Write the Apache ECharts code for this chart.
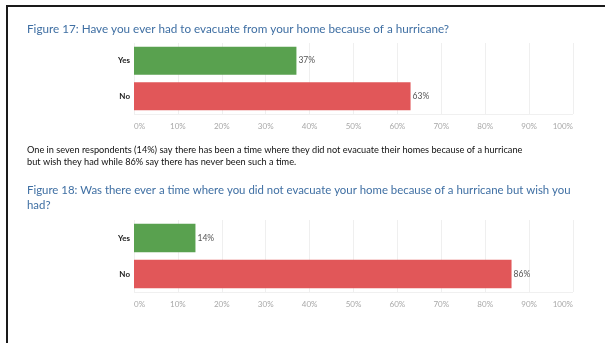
<!DOCTYPE html>
<html>
<head>
<meta charset="utf-8">
<script src="https://cdn.jsdelivr.net/npm/echarts@6/dist/echarts.min.js"></script>
<style>
  html, body { margin: 0; padding: 0; background: #fff; }
  #chart { width: 605px; height: 343px; }
</style>
</head>
<body>
<div id="chart"></div>
<script>
// Survey answers shared by both figures
const categories = ['Yes', 'No'];
const categoryColors = ['#59a14f', '#e15759'];

// Figure 17: ever evacuated because of a hurricane (percent)
const fig17Values = [37, 63];
// Figure 18: did not evacuate but wish you had (percent)
const fig18Values = [14, 86];

// Percent axis ticks
const axisMin = 0;
const axisMax = 100;
const axisStep = 10;

const fig17Title = 'Figure 17: Have you ever had to evacuate from your home because of a hurricane?';
const summaryText = 'One in seven respondents (14%) say there has been a time where they did not evacuate their homes because of a hurricane\nbut wish they had while 86% say there has never been such a time.';
const fig18Title = 'Figure 18: Was there ever a time where you did not evacuate your home because of a hurricane but wish you\nhad?';

const FONT = 'Lato, "Open Sans", sans-serif';

function makeXAxis(gridIndex) {
  return {
    type: 'value',
    gridIndex: gridIndex,
    min: axisMin,
    max: axisMax,
    interval: axisStep,
    axisLine: { show: false },
    axisTick: { show: false },
    splitLine: { show: true, lineStyle: { color: '#efefef', width: 1 } },
    axisLabel: {
      formatter: '{value}%',
      color: '#a8a8a8',
      fontSize: 8,
      fontFamily: FONT,
      margin: 8,
      alignMinLabel: 'left',
      alignMaxLabel: 'right'
    }
  };
}

function makeYAxis(gridIndex) {
  return {
    type: 'category',
    gridIndex: gridIndex,
    data: categories,
    inverse: true,
    axisLine: { show: false },
    axisTick: { show: false },
    splitLine: { show: false },
    axisLabel: {
      color: '#222',
      fontSize: 8,
      fontWeight: 'bold',
      fontFamily: FONT,
      margin: 4
    }
  };
}

function makeSeries(values, axisIndex) {
  return {
    type: 'bar',
    xAxisIndex: axisIndex,
    yAxisIndex: axisIndex,
    barCategoryGap: '21%',
    data: values.map((v, i) => ({ value: v, itemStyle: { color: categoryColors[i] } })),
    label: {
      show: true,
      position: 'right',
      distance: 2,
      formatter: '{c}%',
      color: '#555',
      fontSize: 8.5,
      fontFamily: FONT
    },
    silent: true
  };
}

const chart = echarts.init(document.getElementById('chart'), null, { renderer: 'canvas' });

chart.setOption({
  animation: false,
  backgroundColor: '#fff',
  title: [
    {
      text: fig17Title,
      left: 27,
      top: 22,
      padding: 0,
      textStyle: { color: '#3f6fa3', fontSize: 11.7, fontWeight: 'normal', fontFamily: FONT, lineHeight: 15 }
    },
    {
      text: summaryText,
      left: 27,
      top: 144.5,
      padding: 0,
      textStyle: { color: '#111', fontSize: 9.2, fontWeight: 'normal', fontFamily: FONT, lineHeight: 12 }
    },
    {
      text: fig18Title,
      left: 27,
      top: 182.5,
      padding: 0,
      textStyle: { color: '#3f6fa3', fontSize: 11.4, fontWeight: 'normal', fontFamily: FONT, lineHeight: 15 }
    }
  ],
  grid: [
    { left: 134, right: 32, top: 43, height: 71 },
    { left: 134, right: 32, top: 220, height: 72 }
  ],
  xAxis: [makeXAxis(0), makeXAxis(1)],
  yAxis: [makeYAxis(0), makeYAxis(1)],
  series: [makeSeries(fig17Values, 0), makeSeries(fig18Values, 1)],
  graphic: [
    {
      type: 'polyline',
      silent: true,
      shape: { points: [[7, 343], [7, 6], [605, 6]] },
      style: { stroke: '#1a1a1a', lineWidth: 2, fill: null }
    },
    // faint baselines under each plot
    {
      type: 'line',
      silent: true,
      shape: { x1: 134, y1: 114.5, x2: 573, y2: 114.5 },
      style: { stroke: '#f0f0f0', lineWidth: 1 }
    },
    {
      type: 'line',
      silent: true,
      shape: { x1: 134, y1: 292.5, x2: 573, y2: 292.5 },
      style: { stroke: '#f0f0f0', lineWidth: 1 }
    }
  ]
});
</script>
</body>
</html>
